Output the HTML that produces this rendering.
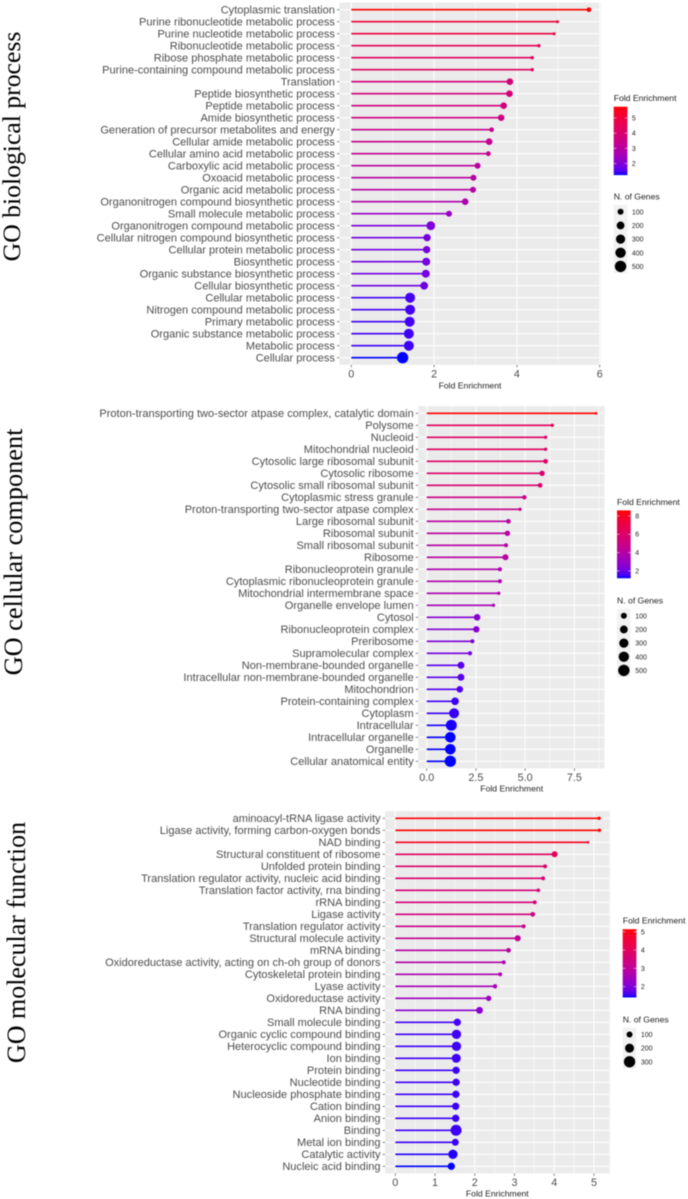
<!DOCTYPE html>
<html lang="en">
<head>
<meta charset="utf-8">
<title>GO enrichment lollipop charts</title>
<style>
html,body{margin:0;padding:0;background:#fff;}
svg{display:block;filter:blur(.5px);}
text{font-family:"Liberation Sans",sans-serif;}
.serif{font-family:"Liberation Serif",serif;font-size:26px;fill:#000;}
</style>
</head>
<body>
<svg id="chart" xmlns="http://www.w3.org/2000/svg" width="688" height="1199" viewBox="0 0 688 1199">
<defs id="defs"></defs>
<text class="serif" style="font-size:25.7px" transform="translate(20 146.5) rotate(-90)" text-anchor="middle">GO biological process</text>
<text class="serif" style="font-size:26.3px" transform="translate(22 552) rotate(-90)" text-anchor="middle">GO cellular component</text>
<text class="serif" transform="translate(25 942.5) rotate(-90)" text-anchor="middle">GO molecular function</text>
</svg>
<script>
const bpTerms = ["Cytoplasmic translation","Purine ribonucleotide metabolic process","Purine nucleotide metabolic process","Ribonucleotide metabolic process","Ribose phosphate metabolic process","Purine-containing compound metabolic process","Translation","Peptide biosynthetic process","Peptide metabolic process","Amide biosynthetic process","Generation of precursor metabolites and energy","Cellular amide metabolic process","Cellular amino acid metabolic process","Carboxylic acid metabolic process","Oxoacid metabolic process","Organic acid metabolic process","Organonitrogen compound biosynthetic process","Small molecule metabolic process","Organonitrogen compound metabolic process","Cellular nitrogen compound biosynthetic process","Cellular protein metabolic process","Biosynthetic process","Organic substance biosynthetic process","Cellular biosynthetic process","Cellular metabolic process","Nitrogen compound metabolic process","Primary metabolic process","Organic substance metabolic process","Metabolic process","Cellular process"];
const bpFold = [5.74,4.98,4.9,4.53,4.37,4.37,3.83,3.82,3.68,3.62,3.39,3.33,3.31,3.05,2.95,2.94,2.75,2.36,1.92,1.83,1.82,1.81,1.8,1.76,1.42,1.42,1.41,1.39,1.39,1.24];
const bpGenes = [48,10,10,15,15,15,132,132,132,125,48,132,55,100,100,100,130,100,270,170,170,213,213,200,368,368,368,368,368,495];
const bpXTicks = [0,2,4,6];
const bpXMinor = [1,3,5];
const bpXLabels = ["0","2","4","6"];
const bpColorTicks = [5,4,3,2];
const bpSizeBreaks = [100,200,300,400,500];

const ccTerms = ["Proton-transporting two-sector atpase complex, catalytic domain","Polysome","Nucleoid","Mitochondrial nucleoid","Cytosolic large ribosomal subunit","Cytosolic ribosome","Cytosolic small ribosomal subunit","Cytoplasmic stress granule","Proton-transporting two-sector atpase complex","Large ribosomal subunit","Ribosomal subunit","Small ribosomal subunit","Ribosome","Ribonucleoprotein granule","Cytoplasmic ribonucleoprotein granule","Mitochondrial intermembrane space","Organelle envelope lumen","Cytosol","Ribonucleoprotein complex","Preribosome","Supramolecular complex","Non-membrane-bounded organelle","Intracellular non-membrane-bounded organelle","Mitochondrion","Protein-containing complex","Cytoplasm","Intracellular","Intracellular organelle","Organelle","Cellular anatomical entity"];
const ccFold = [8.6,6.38,6.04,6.04,6.04,5.86,5.76,4.96,4.74,4.15,4.1,4.03,4,3.72,3.72,3.66,3.39,2.56,2.52,2.32,2.2,1.74,1.74,1.68,1.44,1.39,1.25,1.2,1.2,1.2];
const ccGenes = [6,15,15,15,48,72,48,40,15,48,72,29,100,29,29,15,15,132,120,29,35,150,150,132,190,368,460,420,420,495];
const ccXTicks = [0,2.5,5,7.5];
const ccXMinor = [1.25,3.75,6.25,8.75];
const ccXLabels = ["0.0","2.5","5.0","7.5"];
const ccColorTicks = [8,6,4,2];
const ccSizeBreaks = [100,200,300,400,500];

const mfTerms = ["aminoacyl-tRNA ligase activity","Ligase activity, forming carbon-oxygen bonds","NAD binding","Structural constituent of ribosome","Unfolded protein binding","Translation regulator activity, nucleic acid binding","Translation factor activity, rna binding","rRNA binding","Ligase activity","Translation regulator activity","Structural molecule activity","mRNA binding","Oxidoreductase activity, acting on ch-oh group of donors","Cytoskeletal protein binding","Lyase activity","Oxidoreductase activity","RNA binding","Small molecule binding","Organic cyclic compound binding","Heterocyclic compound binding","Ion binding","Protein binding","Nucleotide binding","Nucleoside phosphate binding","Cation binding","Anion binding","Binding","Metal ion binding","Catalytic activity","Nucleic acid binding"];
const mfFold = [5.13,5.14,4.85,4.01,3.77,3.72,3.6,3.51,3.46,3.23,3.08,2.85,2.73,2.64,2.51,2.35,2.12,1.56,1.54,1.54,1.535,1.53,1.53,1.525,1.52,1.52,1.53,1.51,1.45,1.41];
const mfGenes = [40,40,29,100,52,52,46,52,68,52,105,68,52,52,60,85,125,140,212,212,199,140,140,140,140,140,283,129,212,140];
const mfXTicks = [0,1,2,3,4,5];
const mfXMinor = [0.5,1.5,2.5,3.5,4.5];
const mfXLabels = ["0","1","2","3","4","5"];
const mfColorTicks = [5,4,3,2];
const mfSizeBreaks = [100,200,300];

const svgNS = "http://www.w3.org/2000/svg";
const root = document.getElementById("chart");
const defs = document.getElementById("defs");

function mk(tag, attrs, parent, txt) {
  const el = document.createElementNS(svgNS, tag);
  for (const k in attrs) el.setAttribute(k, attrs[k]);
  if (txt !== undefined) el.textContent = txt;
  parent.appendChild(el);
  return el;
}
function srgb2lin(c){c/=255;return c<=0.04045?c/12.92:Math.pow((c+0.055)/1.055,2.4);}
function lin2srgb(c){c=Math.max(0,Math.min(1,c));return Math.round(255*(c<=0.0031308?12.92*c:1.055*Math.pow(c,1/2.4)-0.055));}
function toLab(r,g,b){
  r=srgb2lin(r);g=srgb2lin(g);b=srgb2lin(b);
  const f=t=>t>0.008856?Math.cbrt(t):7.787*t+16/116;
  const X=f((0.4124*r+0.3576*g+0.1805*b)/0.95047),Y=f(0.2126*r+0.7152*g+0.0722*b),Z=f((0.0193*r+0.1192*g+0.9505*b)/1.08883);
  return [116*Y-16,500*(X-Y),200*(Y-Z)];
}
function fromLab(L,a,b){
  const fy=(L+16)/116,fx=fy+a/500,fz=fy-b/200;
  const g=t=>t*t*t>0.008856?t*t*t:(t-16/116)/7.787;
  const X=0.95047*g(fx),Y=g(fy),Z=1.08883*g(fz);
  return "rgb("+lin2srgb(3.2406*X-1.5372*Y-0.4986*Z)+","+lin2srgb(-0.9689*X+1.8758*Y+0.0415*Z)+","+lin2srgb(0.0557*X-0.204*Y+1.057*Z)+")";
}
const labLow = toLab(0,0,255), labHigh = toLab(255,0,0);
function gradColor(t){
  t=Math.max(0,Math.min(1,t));
  return fromLab(labLow[0]+(labHigh[0]-labLow[0])*t,labLow[1]+(labHigh[1]-labLow[1])*t,labLow[2]+(labHigh[2]-labLow[2])*t);
}

function drawPanel(p){
  const g = mk("g",{},root);
  
  
  const xScale = v => p.x0 + v * p.pxPerUnit;
  const yScale = i => p.y0 + i * 12;
  const fMin = Math.min.apply(null,p.fold), fMax = Math.max.apply(null,p.fold);
  const colorT = v => (v - fMin) / (fMax - fMin);
  const radius = n => p.r0 + p.r1 * Math.sqrt(n);
  const left = xScale(-0.05 * fMax), right = xScale(1.05 * fMax);
  const top = yScale(0) - 7.1, bottom = yScale(p.terms.length - 1) + 7.1;

  const bg = mk("rect",{x:left,y:top,width:right-left,height:bottom-top,fill:"#ebebeb"},g);
  
  

  p.minor.forEach(v => {
    const gl = mk("line",{x1:xScale(v),x2:xScale(v),y1:top,y2:bottom,stroke:"#fff","stroke-width":0.5},g);
    
    
  });
  p.ticks.forEach((v,i) => {
    const gl = mk("line",{x1:xScale(v),x2:xScale(v),y1:top,y2:bottom,stroke:"#fff","stroke-width":1},g);
    
    
    const tk = mk("line",{x1:xScale(v),x2:xScale(v),y1:bottom,y2:bottom+2.5,stroke:"#555","stroke-width":0.7},g);
    
    
    const lb = mk("text",{x:xScale(v),y:bottom+p.tickDy,"text-anchor":"middle","font-size":10.8,fill:"#4d4d4d"},g,p.tickLabels[i]);
    
    
  });

  p.terms.forEach((term,i) => {
    const y = yScale(i);
    const gl = mk("line",{x1:left,x2:right,y1:y,y2:y,stroke:"#fff","stroke-width":1},g);
    
    
    const tk = mk("line",{x1:left-2.5,x2:left,y1:y,y2:y,stroke:"#555","stroke-width":0.7},g);
    
    
    const lb = mk("text",{x:left-4.5,y:y+3.7,"text-anchor":"end","font-size":p.labelSize,fill:"#4d4d4d"},g,term);
    
    
  });

  p.terms.forEach((term,i) => {
    const y = yScale(i), c = gradColor(colorT(p.fold[i]));
    const ln = mk("line",{x1:xScale(0),x2:xScale(p.fold[i]),y1:y,y2:y,stroke:c,"stroke-width":1.7},g);
    
    
    const dot = mk("circle",{cx:xScale(p.fold[i]),cy:y,r:radius(p.genes[i]),fill:c},g);
    
    
  });

  const xt = mk("text",{x:p.xTitleX,y:p.xTitleY,"text-anchor":"middle","font-size":8.65,fill:"#222"},g,"Fold Enrichment");
  
  

  // colour legend
  const lx = p.legendX, barW = 13.7;
  const lt = mk("text",{x:lx,y:p.barTop-5.6,"font-size":8.65,fill:"#222"},g,"Fold Enrichment");
  
  
  const grad = mk("linearGradient",{id:p.id+"-grad",x1:0,y1:0,x2:0,y2:1},defs);
  for (let s=0;s<=20;s++) mk("stop",{offset:s/20,"stop-color":gradColor(1-s/20)},grad);
  const barScale = v => p.barTop + (fMax - v) * p.barUnit;
  const barBottom = barScale(fMin);
  const bar = mk("rect",{x:lx,y:p.barTop,width:barW,height:barBottom-p.barTop,fill:"url(#"+p.id+"-grad)"},g);
  
  
  p.colorTicks.forEach(v => {
    const y = barScale(v);
    const t1 = mk("line",{x1:lx,x2:lx+2.7,y1:y,y2:y,stroke:"#fff","stroke-width":0.5},g);
    
    
    const t2 = mk("line",{x1:lx+barW-2.7,x2:lx+barW,y1:y,y2:y,stroke:"#fff","stroke-width":0.5},g);
    
    
    const lb = mk("text",{x:lx+barW+4.5,y:y+2.5,"font-size":7,fill:"#222"},g,String(v));
    
    
  });

  // size legend
  const st = mk("text",{x:lx,y:p.sizeTop-5.3,"font-size":8.65,fill:"#222"},g,"N. of Genes");
  
  
  p.sizes.forEach((n,i) => {
    const y = p.sizeTop + 13.65 * i;
    const key = mk("rect",{x:lx,y:y,width:barW,height:13.65,fill:"#f2f2f2"},g);
    
    
    const dot = mk("circle",{cx:lx+barW/2,cy:y+6.8,r:radius(n),fill:"#000"},g);
    
    
    const lb = mk("text",{x:lx+barW+4.5,y:y+9.3,"font-size":7,fill:"#222"},g,String(n));
    
    
  });
}

drawPanel({id:"bp",terms:bpTerms,fold:bpFold,genes:bpGenes,ticks:bpXTicks,minor:bpXMinor,tickLabels:bpXLabels,colorTicks:bpColorTicks,sizes:bpSizeBreaks,
  x0:351.3,pxPerUnit:41.4,y0:9.7,r0:0.82,r1:0.218,labelSize:11.05,tickDy:12.5,xTitleX:470,xTitleY:388.3,legendX:613.7,barTop:106.7,barUnit:15.2,sizeTop:205});
drawPanel({id:"cc",terms:ccTerms,fold:ccFold,genes:ccGenes,ticks:ccXTicks,minor:ccXMinor,tickLabels:ccXLabels,colorTicks:ccColorTicks,sizes:ccSizeBreaks,
  x0:426.7,pxPerUnit:19.69,y0:413.3,r0:0.82,r1:0.218,labelSize:11.05,tickDy:12.5,xTitleX:511.7,xTitleY:791.7,legendX:617,barTop:510.4,barUnit:9.17,sizeTop:609});
drawPanel({id:"mf",terms:mfTerms,fold:mfFold,genes:mfGenes,ticks:mfXTicks,minor:mfXMinor,tickLabels:mfXLabels,colorTicks:mfColorTicks,sizes:mfSizeBreaks,
  x0:395.3,pxPerUnit:39.73,y0:818.3,r0:-0.65,r1:0.365,labelSize:11.05,tickDy:12.5,xTitleX:497.3,xTitleY:1196.7,legendX:622.7,barTop:929.2,barUnit:18.3,sizeTop:1027.7});
</script>
</body>
</html>
